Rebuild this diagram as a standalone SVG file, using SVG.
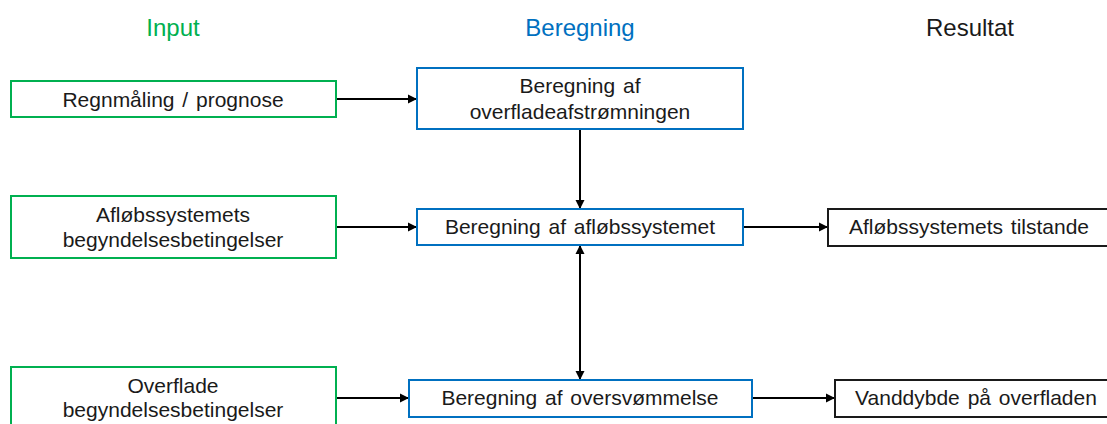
<svg xmlns="http://www.w3.org/2000/svg" width="1107" height="424" viewBox="0 0 1107 424">
<defs>
<style>
.hdr{font-family:"Liberation Sans",Arial,sans-serif;font-size:24px;text-anchor:middle}
.t{font-family:"Liberation Sans",Arial,sans-serif;font-size:21px;text-anchor:middle;fill:#1a1a1a;word-spacing:2px}
.in{fill:#fff;stroke:#00B050;stroke-width:2}
.calc{fill:#fff;stroke:#0070C0;stroke-width:2}
.res{fill:#fff;stroke:#1a1a1a;stroke-width:2}
.c{stroke:#000;stroke-width:2;fill:none}
</style>
<marker id="ah" viewBox="0 0 10 10" refX="10" refY="5" markerWidth="9" markerHeight="10" markerUnits="userSpaceOnUse" orient="auto-start-reverse">
<path d="M0,0 L10,5 L0,10 z" fill="#000"/>
</marker>
</defs>
<rect width="1107" height="424" fill="#fff"/>
<g id="headers">
<text class="hdr" x="173" y="36" fill="#00B050">Input</text>
<text class="hdr" x="580" y="36" fill="#0070C0">Beregning</text>
<text class="hdr" x="970" y="36" fill="#1a1a1a">Resultat</text>
</g>
<g id="connectors">
<line class="c" x1="336" y1="99" x2="417" y2="99" marker-end="url(#ah)"/>
<line class="c" x1="580" y1="129" x2="580" y2="209" marker-end="url(#ah)"/>
<line class="c" x1="336" y1="227" x2="417" y2="227" marker-end="url(#ah)"/>
<line class="c" x1="743" y1="227" x2="828" y2="227" marker-end="url(#ah)"/>
<line class="c" x1="580" y1="245" x2="580" y2="380" marker-start="url(#ah)" marker-end="url(#ah)"/>
<line class="c" x1="336" y1="398" x2="409" y2="398" marker-end="url(#ah)"/>
<line class="c" x1="752" y1="398" x2="835" y2="398" marker-end="url(#ah)"/>
</g>
<g id="in-regn">
<rect class="in" x="11" y="81" width="325" height="36"/>
<text class="t" x="173" y="107">Regnmåling / prognose</text>
</g>
<g id="in-afloeb">
<rect class="in" x="11" y="196" width="325" height="62"/>
<text class="t" x="173" y="222">Afløbssystemets</text>
<text class="t" x="173" y="247">begyndelsesbetingelser</text>
</g>
<g id="in-overflade">
<rect class="in" x="11" y="367" width="325" height="64"/>
<text class="t" x="173" y="393">Overflade</text>
<text class="t" x="173" y="417">begyndelsesbetingelser</text>
</g>
<g id="calc-overflade">
<rect class="calc" x="417" y="68" width="326" height="61"/>
<text class="t" x="580" y="93">Beregning af</text>
<text class="t" x="580" y="119">overfladeafstrømningen</text>
</g>
<g id="calc-afloeb">
<rect class="calc" x="417" y="209" width="326" height="36"/>
<text class="t" x="580" y="234">Beregning af afløbssystemet</text>
</g>
<g id="calc-oversv">
<rect class="calc" x="409" y="380" width="343" height="37"/>
<text class="t" x="580" y="405">Beregning af oversvømmelse</text>
</g>
<g id="res-tilstande">
<rect class="res" x="828" y="209" width="283" height="37"/>
<text class="t" x="969" y="234">Afløbssystemets tilstande</text>
</g>
<g id="res-vanddybde">
<rect class="res" x="835" y="380" width="282" height="37"/>
<text class="t" x="976" y="405">Vanddybde på overfladen</text>
</g>
</svg>
